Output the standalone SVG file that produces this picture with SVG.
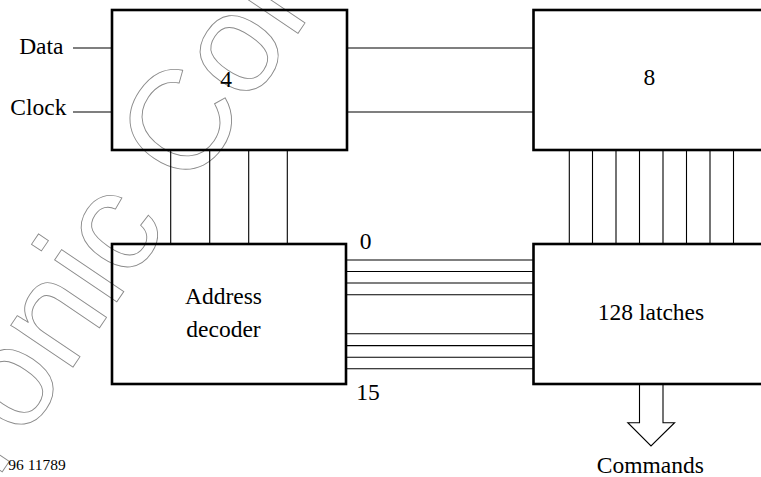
<svg xmlns="http://www.w3.org/2000/svg" width="761" height="477" viewBox="0 0 761 477">
<style>
.box{fill:none;stroke:#000;stroke-width:2.6}
.w{stroke:#000;stroke-width:1.1;fill:none}
.wm{fill:none;stroke:#8a8a8a;stroke-width:0.9}
</style>
<rect width="761" height="477" fill="#fff"/>
<text class="wm" font-family="'Liberation Sans', Arial, sans-serif" font-size="142" x="-3.2" y="479.9" transform="rotate(-56 -3.2 479.9)">ronic Con</text>
<g id="connectors">
<line class="w" x1="73" y1="48" x2="112" y2="48"/>
<line class="w" x1="73" y1="112" x2="112" y2="112"/>
<line class="w" x1="347" y1="48" x2="534" y2="48"/>
<line class="w" x1="347" y1="112" x2="534" y2="112"/>
<line class="w" x1="170.7" y1="150" x2="170.7" y2="244"/>
<line class="w" x1="209.7" y1="150" x2="209.7" y2="244"/>
<line class="w" x1="248.7" y1="150" x2="248.7" y2="244"/>
<line class="w" x1="287.3" y1="150" x2="287.3" y2="244"/>
<line class="w" x1="569.3" y1="150" x2="569.3" y2="244"/>
<line class="w" x1="592.5" y1="150" x2="592.5" y2="244"/>
<line class="w" x1="616" y1="150" x2="616" y2="244"/>
<line class="w" x1="639.5" y1="150" x2="639.5" y2="244"/>
<line class="w" x1="663" y1="150" x2="663" y2="244"/>
<line class="w" x1="686.5" y1="150" x2="686.5" y2="244"/>
<line class="w" x1="710" y1="150" x2="710" y2="244"/>
<line class="w" x1="733.5" y1="150" x2="733.5" y2="244"/>
<line class="w" x1="346" y1="260" x2="534" y2="260"/>
<line class="w" x1="346" y1="271.5" x2="534" y2="271.5"/>
<line class="w" x1="346" y1="283" x2="534" y2="283"/>
<line class="w" x1="346" y1="294.8" x2="534" y2="294.8"/>
<line class="w" x1="346" y1="333.8" x2="534" y2="333.8"/>
<line class="w" x1="346" y1="345.6" x2="534" y2="345.6"/>
<line class="w" x1="346" y1="357.3" x2="534" y2="357.3"/>
<line class="w" x1="346" y1="368.8" x2="534" y2="368.8"/>
<polyline class="w" fill="#fff" points="639.5,384 639.5,422.7 627.8,422.7 651,446 674.6,422.7 663,422.7 663,384"/>
</g>
<g font-family="'Liberation Serif', 'Times New Roman', 'DejaVu Serif', serif" font-size="23.5" fill="#000">
<g id="shift-register">
<rect class="box" x="112" y="10" width="235" height="140"/>
<text x="226" y="87" text-anchor="middle">4</text>
</g>
<g id="register8">
<rect class="box" x="533.5" y="10" width="240" height="140"/>
<text x="649.3" y="85" text-anchor="middle">8</text>
</g>
<g id="address-decoder">
<rect class="box" x="112" y="244" width="234" height="140"/>
<text x="223.5" y="304" text-anchor="middle">Address</text>
<text x="223.5" y="336.5" text-anchor="middle">decoder</text>
</g>
<g id="latches">
<rect class="box" x="533.5" y="244" width="240" height="140"/>
<text x="651" y="320" text-anchor="middle">128 latches</text>
</g>
<g id="labels">
<text x="63.5" y="54" text-anchor="end">Data</text>
<text x="66.5" y="115" text-anchor="end">Clock</text>
<text x="365.7" y="249" text-anchor="middle">0</text>
<text x="368" y="400" text-anchor="middle">15</text>
<text x="650.3" y="472.5" text-anchor="middle">Commands</text>
<text x="8.3" y="470" font-size="15.5">96 11789</text>
</g>
</g>
</svg>
